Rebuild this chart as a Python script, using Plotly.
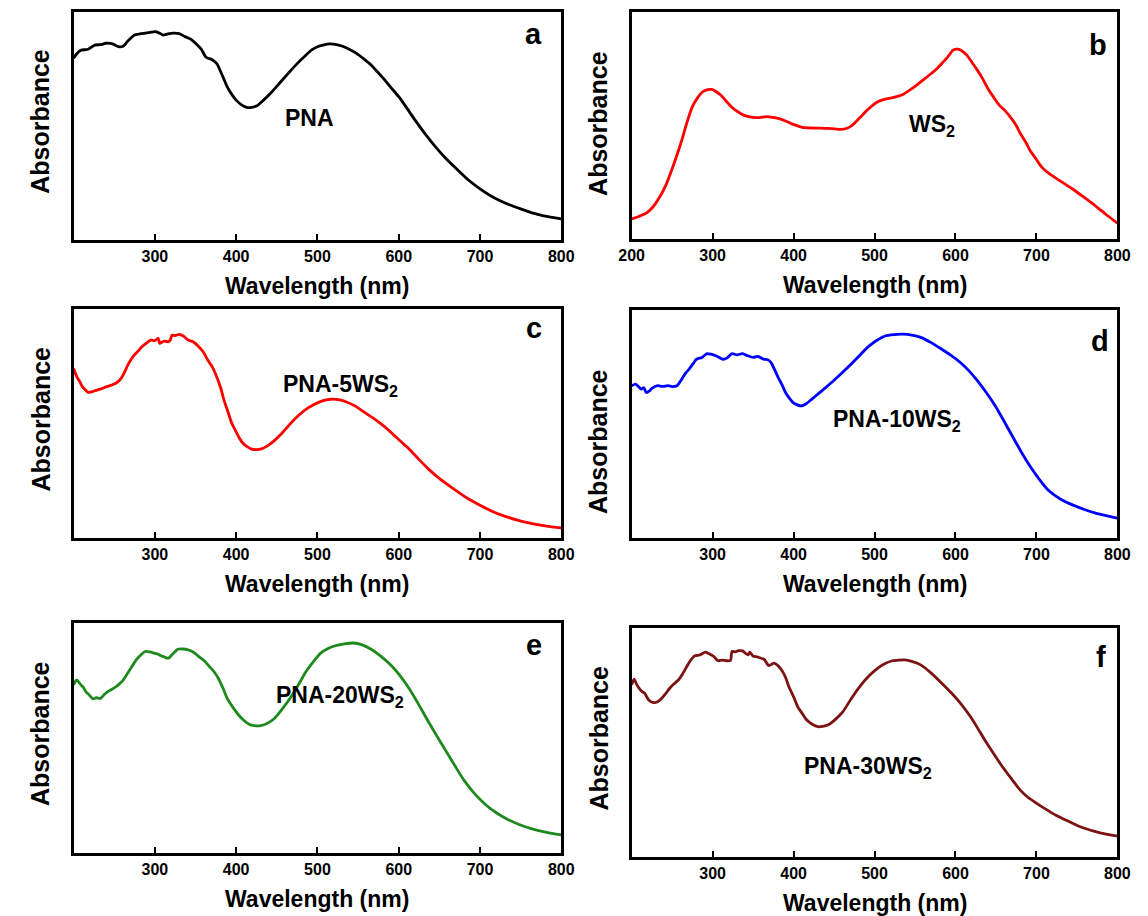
import plotly.graph_objects as go

# ---------------- data (absorbance in arbitrary units) -------------
wl_a = [200, 204, 209, 218, 226, 233, 240, 248, 255, 261, 266, 270, 275, 283, 292, 301, 306, 310, 316, 323, 330, 337,
        344, 350, 357, 363, 370, 376, 383, 389, 395, 400, 407, 413, 419, 425, 433, 442, 453, 464, 475, 486, 493, 500,
        508, 515, 522, 530, 539, 548, 557, 566, 574, 583, 591, 600, 610, 619, 632, 645, 658, 671, 685, 700, 712, 724,
        737, 750, 763, 777, 789, 800]
abs_a = [0.795, 0.815, 0.83, 0.835, 0.853, 0.855, 0.861, 0.858, 0.846, 0.848, 0.868, 0.882, 0.897, 0.903, 0.908, 0.912,
         0.905, 0.897, 0.902, 0.905, 0.903, 0.89, 0.879, 0.861, 0.835, 0.80, 0.79, 0.773, 0.72, 0.67, 0.635, 0.612,
         0.59, 0.58, 0.58, 0.586, 0.61, 0.641, 0.685, 0.729, 0.772, 0.81, 0.832, 0.846, 0.854, 0.858, 0.856, 0.849,
         0.835, 0.817, 0.793, 0.766, 0.735, 0.70, 0.665, 0.627, 0.577, 0.53, 0.467, 0.409, 0.357, 0.312, 0.265,
         0.224, 0.196, 0.173, 0.153, 0.136, 0.12, 0.107, 0.099, 0.092]

wl_b = [200, 208, 218, 226, 235, 242, 248, 255, 262, 268, 275, 282, 288, 294, 299, 304, 310, 316, 323, 330, 336, 343,
        350, 358, 367, 374, 381, 390, 398, 405, 411, 422, 433, 442, 451, 459, 466, 472, 477, 484, 491, 498, 504, 510,
        517, 526, 535, 543, 552, 561, 570, 577, 583, 590, 597, 603, 608, 614, 620, 627, 634, 640, 647, 654, 662, 669,
        675, 680, 687, 693, 700, 706, 715, 724, 735, 746, 759, 772, 786, 800]
abs_b = [0.088, 0.098, 0.114, 0.14, 0.187, 0.235, 0.29, 0.36, 0.436, 0.51, 0.583, 0.625, 0.649, 0.658, 0.659, 0.65,
         0.634, 0.61, 0.583, 0.563, 0.55, 0.54, 0.536, 0.535, 0.539, 0.536, 0.531, 0.52, 0.507, 0.498, 0.492, 0.489,
         0.488, 0.487, 0.485, 0.483, 0.488, 0.5, 0.517, 0.542, 0.568, 0.59, 0.605, 0.613, 0.619, 0.626, 0.637, 0.655,
         0.678, 0.703, 0.729, 0.75, 0.773, 0.8, 0.832, 0.836, 0.828, 0.81, 0.78, 0.744, 0.703, 0.663, 0.625, 0.59,
         0.562, 0.531, 0.5, 0.466, 0.425, 0.385, 0.35, 0.319, 0.29, 0.268, 0.243, 0.217, 0.183, 0.148, 0.108, 0.07]

wl_c = [200, 204, 208, 211, 215, 218, 222, 226, 233, 240, 247, 253, 258, 262, 267, 273, 279, 284, 290, 295, 300, 304,
        306, 309, 312, 316, 319, 321, 325, 330, 335, 341, 347, 354, 360, 365, 371, 376, 381, 385, 390, 394, 399, 403,
        408, 414, 419, 425, 431, 438, 447, 456, 466, 477, 488, 500, 508, 517, 526, 535, 546, 557, 570, 583, 596, 610,
        623, 636, 651, 667, 683, 700, 716, 733, 748, 764, 782, 800]
abs_c = [0.74, 0.704, 0.68, 0.66, 0.645, 0.636, 0.638, 0.643, 0.65, 0.66, 0.668, 0.678, 0.695, 0.719, 0.757, 0.792,
         0.815, 0.835, 0.852, 0.864, 0.862, 0.872, 0.85, 0.856, 0.86, 0.857, 0.864, 0.886, 0.884, 0.889, 0.882, 0.864,
         0.857, 0.835, 0.81, 0.777, 0.745, 0.704, 0.655, 0.602, 0.55, 0.507, 0.47, 0.442, 0.415, 0.398, 0.388, 0.386,
         0.389, 0.401, 0.425, 0.456, 0.497, 0.536, 0.567, 0.59, 0.601, 0.606, 0.604, 0.595, 0.577, 0.551, 0.52,
         0.485, 0.443, 0.398, 0.35, 0.303, 0.257, 0.216, 0.177, 0.143, 0.115, 0.092, 0.076, 0.063, 0.052, 0.044]

wl_d = [200, 205, 209, 212, 215, 218, 222, 225, 232, 238, 245, 250, 256, 262, 267, 271, 276, 280, 287, 293, 298, 304,
        309, 313, 318, 324, 330, 337, 343, 350, 356, 363, 368, 372, 377, 381, 386, 390, 395, 399, 404, 408, 412, 416,
        423, 430, 438, 447, 458, 469, 480, 491, 502, 513, 524, 535, 546, 557, 570, 583, 595, 606, 617, 627, 638, 649,
        660, 671, 682, 693, 704, 715, 730, 746, 760, 773, 787, 800]
abs_d = [0.668, 0.675, 0.662, 0.653, 0.66, 0.638, 0.645, 0.656, 0.668, 0.665, 0.668, 0.664, 0.668, 0.697, 0.725, 0.741,
         0.765, 0.784, 0.792, 0.809, 0.806, 0.799, 0.79, 0.784, 0.79, 0.809, 0.803, 0.809, 0.8, 0.792, 0.797, 0.784,
         0.782, 0.77, 0.735, 0.704, 0.67, 0.638, 0.612, 0.595, 0.585, 0.58, 0.582, 0.59, 0.61, 0.631, 0.655, 0.682,
         0.718, 0.755, 0.795, 0.835, 0.865, 0.886, 0.892, 0.894, 0.89, 0.88, 0.857, 0.828, 0.8, 0.77, 0.732, 0.69,
         0.638, 0.58, 0.512, 0.442, 0.373, 0.31, 0.255, 0.208, 0.17, 0.143, 0.124, 0.109, 0.097, 0.087]

wl_e = [200, 202, 204, 207, 209, 212, 215, 219, 224, 228, 233, 238, 244, 250, 255, 261, 266, 272, 277, 283, 288, 294,
        299, 304, 308, 312, 315, 318, 321, 325, 328, 334, 341, 348, 354, 361, 367, 373, 378, 384, 389, 396, 403, 410,
        416, 422, 429, 438, 447, 458, 469, 478, 486, 495, 504, 513, 522, 533, 544, 555, 566, 579, 592, 603, 614, 625,
        636, 647, 658, 669, 680, 693, 707, 720, 733, 748, 764, 782, 800]
abs_e = [0.731, 0.745, 0.753, 0.74, 0.731, 0.72, 0.702, 0.688, 0.67, 0.675, 0.672, 0.69, 0.706, 0.718, 0.731, 0.752,
         0.779, 0.812, 0.84, 0.862, 0.876, 0.874, 0.869, 0.864, 0.857, 0.852, 0.847, 0.85, 0.862, 0.876, 0.886, 0.887,
         0.883, 0.872, 0.854, 0.835, 0.811, 0.787, 0.76, 0.715, 0.672, 0.633, 0.6, 0.575, 0.56, 0.554, 0.553, 0.563,
         0.585, 0.632, 0.687, 0.74, 0.789, 0.832, 0.869, 0.889, 0.901, 0.909, 0.913, 0.905, 0.886, 0.853, 0.811,
         0.765, 0.709, 0.643, 0.574, 0.508, 0.444, 0.38, 0.318, 0.259, 0.21, 0.175, 0.148, 0.124, 0.105, 0.09, 0.079]

wl_f = [200, 203, 206, 210, 213, 216, 221, 227, 232, 236, 242, 247, 252, 258, 263, 267, 272, 278, 284, 291, 295, 300,
        303, 306, 312, 317, 322, 324, 328, 332, 337, 341, 344, 346, 350, 355, 359, 364, 368, 370, 373, 376, 380, 385,
        390, 394, 400, 405, 411, 416, 423, 430, 436, 443, 452, 461, 471, 482, 493, 504, 513, 522, 530, 537, 547, 557,
        570, 583, 595, 606, 619, 627, 636, 647, 658, 669, 680, 689, 698, 711, 724, 740, 755, 772, 786, 800]
abs_f = [0.752, 0.777, 0.755, 0.733, 0.722, 0.715, 0.686, 0.674, 0.678, 0.689, 0.713, 0.737, 0.755, 0.774, 0.8,
         0.825, 0.855, 0.879, 0.882, 0.895, 0.889, 0.879, 0.87, 0.858, 0.86, 0.857, 0.858, 0.898, 0.896, 0.901, 0.9,
         0.888, 0.883, 0.895, 0.877, 0.874, 0.869, 0.862, 0.84, 0.836, 0.842, 0.847, 0.838, 0.818, 0.785, 0.745, 0.7,
         0.657, 0.625, 0.599, 0.58, 0.569, 0.57, 0.577, 0.602, 0.635, 0.69, 0.745, 0.79, 0.825, 0.845, 0.857, 0.86,
         0.861, 0.853, 0.839, 0.803, 0.759, 0.716, 0.672, 0.61, 0.565, 0.512, 0.452, 0.394, 0.342, 0.292, 0.262,
         0.24, 0.21, 0.182, 0.155, 0.131, 0.112, 0.1, 0.091]

panel_letters = ["a", "b", "c", "d", "e", "f"]
sample_names = ["PNA", "WS<sub>2</sub>", "PNA-5WS<sub>2</sub>", "PNA-10WS<sub>2</sub>",
                "PNA-20WS<sub>2</sub>", "PNA-30WS<sub>2</sub>"]
x_title = "Wavelength (nm)"
y_title = "Absorbance"
ticks_ab = [300, 400, 500, 600, 700, 800]
ticks_b = [200, 300, 400, 500, 600, 700, 800]

# ---------------- styling -------------------------------------------------------------------
W, H = 1148, 916
FONT = "Liberation Sans, Arial, sans-serif"
colors = ["#000000", "#ff0000", "#ff0000", "#0000ff", "#1e8a1e", "#7d1212"]

# panel boxes in pixels: (left, right, top, bottom)
boxes = [(62, 561, 11.5, 240), (633, 1130, 12, 239),
         (62, 561, 309, 538), (633, 1130, 310, 538),
         (62, 561, 623, 853), (633, 1130, 628, 857)]
letter_pos = [(0.944, 0.90), (0.96, 0.855), (0.944, 0.917), (0.964, 0.865), (0.944, 0.904), (0.966, 0.873)]
name_pos = [(0.483, 0.535), (0.618, 0.50), (0.547, 0.668), (0.547, 0.515), (0.547, 0.681), (0.487, 0.389)]
ytitle_pos = [0.52, 0.51, 0.52, 0.424, 0.52, 0.52]

series = [(wl_a, abs_a), (wl_b, abs_b), (wl_c, abs_c), (wl_d, abs_d), (wl_e, abs_e), (wl_f, abs_f)]

fig = go.Figure()
layout = dict(width=W, height=H, margin=dict(l=0, r=0, t=0, b=0), autosize=False,
              plot_bgcolor="white", paper_bgcolor="white", showlegend=False,
              font=dict(family=FONT, color="black"))
annotations = []


def bold(size):
    return dict(family=FONT, size=size, color="black", weight="bold")


for i, ((wl, ab), col, (l, r, t, b)) in enumerate(zip(series, colors, boxes)):
    n = "" if i == 0 else str(i + 1)
    xa, ya = "x" + n, "y" + n
    fig.add_trace(go.Scatter(x=wl, y=ab, mode="lines", xaxis=xa, yaxis=ya,
                             line=dict(color=col, width=2.8, shape="spline", smoothing=0.6),
                             hoverinfo="skip"))
    layout["xaxis" + n] = dict(domain=[l / W, r / W], anchor=ya, range=[200, 800],
                               showline=True, mirror=True, linecolor="black", linewidth=3,
                               showgrid=False, zeroline=False, ticks="inside", ticklen=6, tickwidth=2,
                               tickcolor="black",
                               tickvals=ticks_b if i == 1 else ticks_ab,
                               tickfont=bold(16))
    layout["yaxis" + n] = dict(domain=[1 - b / H, 1 - t / H], anchor=xa, range=[0, 1],
                               showline=True, mirror=True, linecolor="black", linewidth=3,
                               showgrid=False, zeroline=False, showticklabels=False, ticks="")
    xd, yd = xa + " domain", ya + " domain"
    annotations.append(dict(text=x_title, xref=xd, yref=yd, x=0.5, y=0,
                            xanchor="center", yanchor="middle", yshift=-46, showarrow=False,
                            font=bold(23)))
    annotations.append(dict(text=y_title, xref=xd, yref=yd, x=0, y=ytitle_pos[i],
                            xanchor="center", yanchor="middle", xshift=-33, textangle=-90,
                            showarrow=False, font=bold(25)))
    annotations.append(dict(text=panel_letters[i], xref=xd, yref=yd,
                            x=letter_pos[i][0], y=letter_pos[i][1], xanchor="center", yanchor="middle",
                            showarrow=False, font=bold(29)))
    annotations.append(dict(text=sample_names[i], xref=xd, yref=yd,
                            x=name_pos[i][0], y=name_pos[i][1], xanchor="center", yanchor="middle",
                            showarrow=False, font=bold(23)))

layout["annotations"] = annotations
fig.update_layout(**layout)
fig.write_html("out.html", config={"displayModeBar": False},
               post_script="document.body.style.margin='0';document.body.style.overflow='hidden';")
